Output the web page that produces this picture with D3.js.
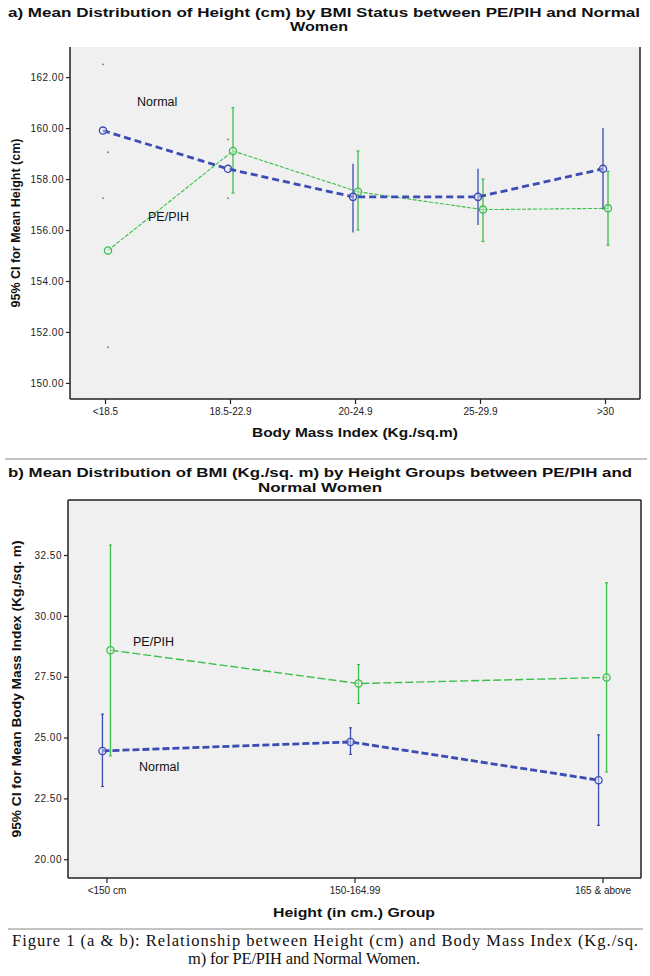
<!DOCTYPE html>
<html>
<head>
<meta charset="utf-8">
<script src="https://cdn.jsdelivr.net/npm/d3@7"></script>
<style>
    body { margin: 0; background: #fff; }
    svg { display: block; font-family: "Liberation Sans", Arial, sans-serif; }
    .tick text { fill: #222; }
</style>
</head>
<body>
<div id="chart"></div>
<script>
// panel a: height by BMI group
const bmiGroups = ["<18.5", "18.5-22.9", "20-24.9", "25-29.9", ">30"];
const heightNormalMean = [159.9, 158.4, 157.3, 157.3, 158.4];
const heightNormalLow = [157.25, 157.25, 155.9, 156.2, 156.8];
const heightNormalHigh = [162.5, 159.55, 158.6, 158.4, 160.0];
const heightPeMean = [155.2, 159.1, 157.5, 156.8, 156.85];
const heightPeLow = [151.4, 157.45, 156.0, 155.55, 155.4];
const heightPeHigh = [159.05, 160.8, 159.1, 158.0, 158.3];
const heightTicks = [150, 152, 154, 156, 158, 160, 162];

// panel b: BMI by height group
const heightGroups = ["<150 cm", "150-164.99", "165 & above"];
const bmiNormalMean = [24.45, 24.82, 23.25];
const bmiNormalLow = [22.99, 24.31, 21.39];
const bmiNormalHigh = [25.96, 25.40, 25.11];
const bmiPeMean = [28.59, 27.22, 27.47];
const bmiPeLow = [24.25, 26.4, 23.59];
const bmiPeHigh = [32.91, 28.0, 31.36];
const bmiTicks = [20, 22.5, 25, 27.5, 30, 32.5];

const BLUE = "#3b4cb4";
const GREEN = "#3cbf4a";

const svg = d3.select("#chart").append("svg")
    .attr("width", 650)
    .attr("height", 976);

function zip(cats, mean, low, high) {
    return cats.map((c, i) => ({ cat: c, mean: mean[i], low: low[i], high: high[i] }));
}

function drawPanel(opts) {
    const x = d3.scalePoint()
        .domain(opts.categories)
        .range([opts.left, opts.right])
        .padding(opts.padding);

    const y = d3.scaleLinear()
        .domain(opts.yDomain)
        .range([opts.bottom, opts.top]);

    // plot background
    svg.append("rect")
        .attr("x", opts.left)
        .attr("y", opts.top)
        .attr("width", opts.right - opts.left)
        .attr("height", opts.bottom - opts.top)
        .attr("fill", "#f0f0f0");

    // frame
    const frame = svg.append("g").attr("stroke", "#222").attr("stroke-width", 1.5);
    frame.append("line").attr("x1", opts.right).attr("x2", opts.right)
        .attr("y1", opts.top).attr("y2", opts.bottom);
    if (opts.frameTop) {
        frame.append("line").attr("x1", opts.left).attr("x2", opts.right)
            .attr("y1", opts.top).attr("y2", opts.top);
    }

    // axes
    const yAxis = svg.append("g")
        .attr("transform", `translate(${opts.left},0)`)
        .call(d3.axisLeft(y)
            .tickValues(opts.ticks)
            .tickFormat(d3.format(".2f"))
            .tickSize(4)
            .tickPadding(2));
    yAxis.selectAll("text").style("font-size", "10px").style("letter-spacing", "0.5px");

    const xAxis = svg.append("g")
        .attr("transform", `translate(0,${opts.bottom})`)
        .call(d3.axisBottom(x).tickSize(5).tickPadding(4));
    xAxis.selectAll("text").style("font-size", "10px");

    [yAxis, xAxis].forEach(ax => {
        ax.select(".domain").attr("stroke", "#222").attr("stroke-width", 1.5);
        ax.selectAll(".tick line").attr("stroke", "#222").attr("stroke-width", 1.2);
    });
    yAxis.select(".domain").attr("d", `M0,${opts.top}V${opts.bottom}`);
    xAxis.select(".domain").attr("d", `M${opts.left},0H${opts.right}`);

    // series
    opts.series.forEach(s => {
        const px = d => x(d.cat) + s.dodge;
        const g = svg.append("g");

        // error bars (faint ones only show their end dots, as in the scan)
        const bars = g.selectAll(".err")
            .data(s.data)
            .enter()
            .append("g");

        bars.filter(d => !s.faint.includes(d.cat)).append("line")
            .attr("x1", px).attr("x2", px)
            .attr("y1", d => y(d.low)).attr("y2", d => y(d.high))
            .attr("stroke", s.color)
            .attr("stroke-width", 1.3);

        if (s.caps) {
            ["low", "high"].forEach(k => {
                bars.filter(d => !s.faint.includes(d.cat)).append("line")
                    .attr("x1", d => px(d) - 1.5).attr("x2", d => px(d) + 1.5)
                    .attr("y1", d => y(d[k])).attr("y2", d => y(d[k]))
                    .attr("stroke", s.color)
                    .attr("stroke-width", 1.2);
            });
        }

        ["low", "high"].forEach(k => {
            bars.filter(d => s.faint.includes(d.cat)).append("circle")
                .attr("cx", px)
                .attr("cy", d => y(d[k]))
                .attr("r", 0.9)
                .attr("fill", "#777");
        });

        // mean line
        g.append("path")
            .datum(s.data)
            .attr("fill", "none")
            .attr("stroke", s.color)
            .attr("stroke-width", s.width)
            .attr("stroke-dasharray", s.dash)
            .attr("d", d3.line().x(px).y(d => y(d.mean)));

        // mean markers
        g.selectAll(".pt")
            .data(s.data)
            .enter()
            .append("circle")
            .attr("cx", px)
            .attr("cy", d => y(d.mean))
            .attr("r", 3.6)
            .attr("fill", "#f0f0f0")
            .attr("fill-opacity", 0.4)
            .attr("stroke", s.color)
            .attr("stroke-width", 1.3);

        svg.append("text")
            .attr("x", s.labelX)
            .attr("y", s.labelY)
            .style("font-size", "12.5px")
            .style("fill", "#111")
            .text(s.name);
    });

    // titles and axis labels
    opts.title.forEach(t => {
        svg.append("text")
            .attr("x", t.x)
            .attr("y", t.y)
            .attr("textLength", t.len)
            .attr("lengthAdjust", "spacingAndGlyphs")
            .style("font-size", "13.5px")
            .style("font-weight", "bold")
            .style("fill", "#111")
            .text(t.text);
    });

    svg.append("text")
        .attr("x", opts.xLabelX - opts.xLabelLen / 2)
        .attr("y", opts.xLabelY)
        .attr("textLength", opts.xLabelLen)
        .attr("lengthAdjust", "spacingAndGlyphs")
        .style("font-size", "13px")
        .style("font-weight", "bold")
        .style("fill", "#111")
        .text(opts.xLabel);

    svg.append("text")
        .attr("transform", `translate(${opts.yLabelX},${opts.yLabelY + opts.yLabelLen / 2}) rotate(-90)`)
        .attr("textLength", opts.yLabelLen)
        .attr("lengthAdjust", "spacingAndGlyphs")
        .style("font-size", "12.5px")
        .style("font-weight", "bold")
        .style("fill", "#111")
        .text(opts.yLabel);
}

drawPanel({
    categories: bmiGroups,
    left: 70, right: 640, top: 47, bottom: 399,
    padding: 0.28,
    yDomain: [149.37, 163.18],
    ticks: heightTicks,
    frameTop: false,
    title: [
        { text: "a) Mean Distribution of Height (cm) by BMI Status between PE/PIH and Normal", x: 8, y: 17, len: 632 },
        { text: "Women", x: 290, y: 31, len: 58 }
    ],
    xLabel: "Body Mass Index (Kg./sq.m)", xLabelX: 355, xLabelY: 437, xLabelLen: 206,
    yLabel: "95% CI for Mean Height (cm)", yLabelX: 20, yLabelY: 223, yLabelLen: 169,
    series: [
        { name: "PE/PIH", data: zip(bmiGroups, heightPeMean, heightPeLow, heightPeHigh),
          color: GREEN, dodge: 3, width: 1.1, dash: "4,1.5", caps: true, faint: ["<18.5"],
          labelX: 148, labelY: 221 },
        { name: "Normal", data: zip(bmiGroups, heightNormalMean, heightNormalLow, heightNormalHigh),
          color: BLUE, dodge: -2, width: 2.8, dash: "7,4", caps: false, faint: ["<18.5", "18.5-22.9"],
          labelX: 137, labelY: 106 }
    ]
});

drawPanel({
    categories: heightGroups,
    left: 68, right: 641, top: 500, bottom: 878,
    padding: 0.155,
    yDomain: [19.23, 34.76],
    ticks: bmiTicks,
    frameTop: true,
    title: [
        { text: "b) Mean Distribution of BMI (Kg./sq. m) by Height Groups between PE/PIH and", x: 8, y: 477, len: 624 },
        { text: "Normal Women", x: 258, y: 492, len: 124 }
    ],
    xLabel: "Height (in cm.) Group", xLabelX: 354, xLabelY: 917, xLabelLen: 162,
    yLabel: "95% CI for Mean Body Mass Index (Kg./sq. m)", yLabelX: 21, yLabelY: 689, yLabelLen: 297,
    series: [
        { name: "PE/PIH", data: zip(heightGroups, bmiPeMean, bmiPeLow, bmiPeHigh),
          color: GREEN, dodge: 4, width: 1.4, dash: "8,3", caps: true, faint: [],
          labelX: 133, labelY: 646 },
        { name: "Normal", data: zip(heightGroups, bmiNormalMean, bmiNormalLow, bmiNormalHigh),
          color: BLUE, dodge: -4, width: 2.8, dash: "7,3", caps: true, faint: [],
          labelX: 139, labelY: 771 }
    ]
});

// separator rules
svg.append("line").attr("x1", 5).attr("x2", 647).attr("y1", 459).attr("y2", 459)
    .attr("stroke", "#888").attr("stroke-width", 1.2);
svg.append("line").attr("x1", 8).attr("x2", 643).attr("y1", 929).attr("y2", 929)
    .attr("stroke", "#888").attr("stroke-width", 1.2);

// caption
svg.append("text")
    .attr("x", 12).attr("y", 946)
    .attr("textLength", 626)
    .attr("lengthAdjust", "spacing")
    .style("font-family", "'Liberation Serif', 'Times New Roman', serif")
    .style("font-size", "16.5px")
    .style("fill", "#111")
    .text("Figure 1 (a & b): Relationship between Height (cm) and Body Mass Index (Kg./sq.");
svg.append("text")
    .attr("x", 188).attr("y", 964)
    .attr("textLength", 232)
    .attr("lengthAdjust", "spacing")
    .style("font-family", "'Liberation Serif', 'Times New Roman', serif")
    .style("font-size", "16.5px")
    .style("fill", "#111")
    .text("m) for PE/PIH and Normal Women.");
</script>
</body>
</html>
